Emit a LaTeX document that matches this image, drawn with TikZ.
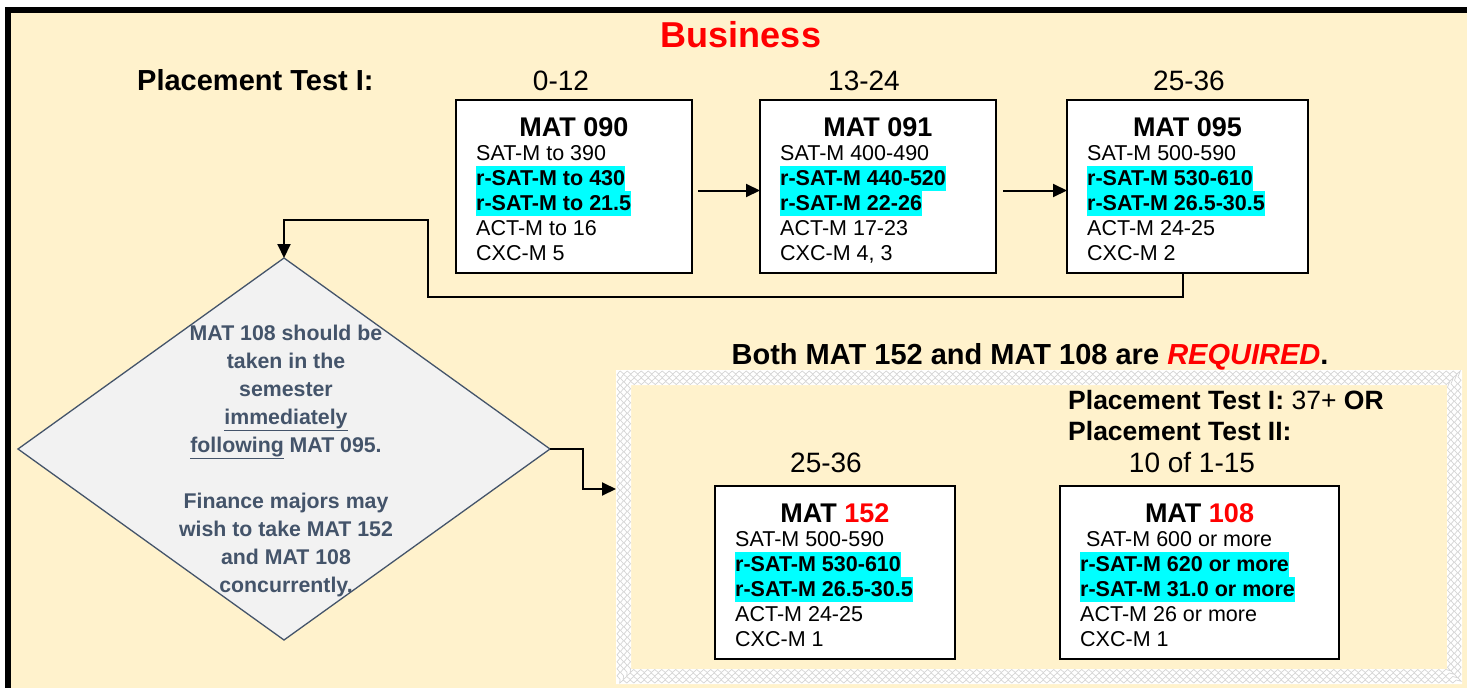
\documentclass[tikz,border=0pt]{standalone}
\usepackage{fontspec}
\setmainfont{Liberation Sans}
\usetikzlibrary{shapes.geometric,arrows.meta,decorations.pathmorphing}
\definecolor{cream}{HTML}{FFF2CC}
\definecolor{hlcyan}{HTML}{00FFFF}
\definecolor{slate}{HTML}{44546A}
\definecolor{paleg}{HTML}{F2F2F2}
\definecolor{zzgray}{HTML}{D4D4D4}
\newcommand{\rowstrut}{\rule[-6pt]{0pt}{25pt}}
\newcommand{\hlrow}[1]{{\setlength{\fboxsep}{0pt}\colorbox{hlcyan}{\bfseries\rowstrut #1}}}

\begin{document}
\begin{tikzpicture}[x=1pt, y=-1pt,
    course/.style={draw, line width=2pt, fill=white, inner sep=0pt, outer sep=0pt, minimum height=173pt},
    ctitle/.style={font=\bfseries\fontsize{27}{30}\selectfont, anchor=base, inner sep=0pt},
    cbody/.style={font=\fontsize{21.5}{25}\selectfont, align=left, anchor=north west, inner sep=0pt},
    score/.style={font=\fontsize{28}{32}\selectfont, anchor=base, inner sep=0pt},
    link/.style={line width=2pt, -{Triangle[length=14pt,width=13pt]}}]
    \useasboundingbox (0,0) rectangle (1467,688);
    % background and frame
    \fill[white] (0,0) rectangle (1467,688);
    \fill[cream] (11,13) rectangle (1467,688);
    \fill[black] (5,7) rectangle (1467,13);
    \fill[black] (5,7) rectangle (11,688);

    % headings
    \node[font=\bfseries\fontsize{36}{40}\selectfont, text=red, anchor=base, inner sep=0pt] (title) at (741,47) {Business};
    \node[font=\bfseries\fontsize{29}{33}\selectfont, anchor=base west, inner sep=0pt] (ptest) at (137,90) {Placement Test I:};
    \node[score] (s012) at (561,90) {0-12};
    \node[score] (s1324) at (864,90) {13-24};
    \node[score] (s2536) at (1189,90) {25-36};

    % developmental courses
    \node[course, minimum width=236pt] (m090) at (574,186.5) {};
    \node[ctitle] at ([yshift=-36pt]m090.north) {MAT 090};
    \node[cbody] at ([xshift=20pt,yshift=-41pt]m090.north west) {\rowstrut SAT-M to 390\\ \hlrow{r-SAT-M to 430}\\ \hlrow{r-SAT-M to 21.5}\\ ACT-M to 16\\ CXC-M 5};

    \node[course, minimum width=236pt] (m091) at (878,186.5) {};
    \node[ctitle] at ([yshift=-36pt]m091.north) {MAT 091};
    \node[cbody] at ([xshift=20pt,yshift=-41pt]m091.north west) {\rowstrut SAT-M 400-490\\ \hlrow{r-SAT-M 440-520}\\ \hlrow{r-SAT-M 22-26}\\ ACT-M 17-23\\ CXC-M 4, 3};

    \node[course, minimum width=241pt] (m095) at (1187.5,186.5) {};
    \node[ctitle] at ([yshift=-36pt]m095.north) {MAT 095};
    \node[cbody] at ([xshift=20pt,yshift=-41pt]m095.north west) {\rowstrut SAT-M 500-590\\ \hlrow{r-SAT-M 530-610}\\ \hlrow{r-SAT-M 26.5-30.5}\\ ACT-M 24-25\\ CXC-M 2};

    \draw[link, shorten <=6pt] ([yshift=-4pt]m090.east) -- ([yshift=-4pt]m091.west);
    \draw[link, shorten <=7pt] ([yshift=-4pt]m091.east) -- ([yshift=-4pt]m095.west);

    % advice diamond
    \node[diamond, draw=slate, fill=paleg, line width=1.3pt, inner sep=0pt, outer sep=0pt,
          minimum width=532pt, minimum height=382pt] (decide) at (284,449) {};
    \node[font=\bfseries\fontsize{21.3}{28}\selectfont, text=slate, align=center, inner sep=0pt]
        (decidetxt) at ([xshift=2pt,yshift=-12pt]decide.center)
        {MAT 108 should be\\ taken in the\\ semester\\ \underline{immediately}\\ \underline{following} MAT 095.\\[28pt]
         Finance majors may\\ wish to take MAT 152\\ and MAT 108\\ concurrently.};

    \coordinate (loopA) at (428,297);
    \coordinate (loopB) at (428,220);
    \draw[link] ([xshift=-5pt]m095.south) |- (loopA) -- (loopB) -| (decide.north);

    % required courses
    \node[font=\bfseries\fontsize{29}{33}\selectfont, anchor=base, inner sep=0pt] (req) at (1030,364)
        {Both MAT 152 and MAT 108 are \textcolor{red}{\itshape REQUIRED}.};
    \fill[white, even odd rule] (616,370) rectangle (1462,684) (631,385) rectangle (1447,669);
    \foreach \d in {2.5,6,9.5,13}{
        \draw[zzgray, line width=0.7pt, decorate, decoration={zigzag, segment length=7pt, amplitude=1.5pt}]
            (616+\d,370+\d) -- (1462-\d,370+\d) -- (1462-\d,684-\d) -- (616+\d,684-\d) -- cycle;
    }
    \coordinate (reqin) at (616,489);
    \draw[link] (decide.east) -- ++(33,0) |- (reqin);

    \node[font=\fontsize{26.5}{31}\selectfont, anchor=base west, inner sep=0pt] (ptone) at (1068,409)
        {\textbf{Placement Test I:} 37+ \textbf{OR}};
    \node[font=\bfseries\fontsize{26.5}{31}\selectfont, anchor=base west, inner sep=0pt] (pttwo) at (1068,440)
        {Placement Test II:};
    \node[score] (s2536b) at (826,472) {25-36};
    \node[score] (s1015) at (1192,472) {10 of 1-15};

    \node[course, minimum width=240pt] (m152) at (835,572.5) {};
    \node[ctitle] at ([yshift=-36pt]m152.north) {MAT \textcolor{red}{152}};
    \node[cbody] at ([xshift=20pt,yshift=-41pt]m152.north west) {\rowstrut SAT-M 500-590\\ \hlrow{r-SAT-M 530-610}\\ \hlrow{r-SAT-M 26.5-30.5}\\ ACT-M 24-25\\ CXC-M 1};

    \node[course, minimum width=279pt] (m108) at (1199.5,572.5) {};
    \node[ctitle] at ([yshift=-36pt]m108.north) {MAT \textcolor{red}{108}};
    \node[cbody] at ([xshift=20pt,yshift=-41pt]m108.north west) {\rowstrut\ SAT-M 600 or more\\ \hlrow{r-SAT-M 620 or more}\\ \hlrow{r-SAT-M 31.0 or more}\\ ACT-M 26 or more\\ CXC-M 1};
\end{tikzpicture}
\end{document}
